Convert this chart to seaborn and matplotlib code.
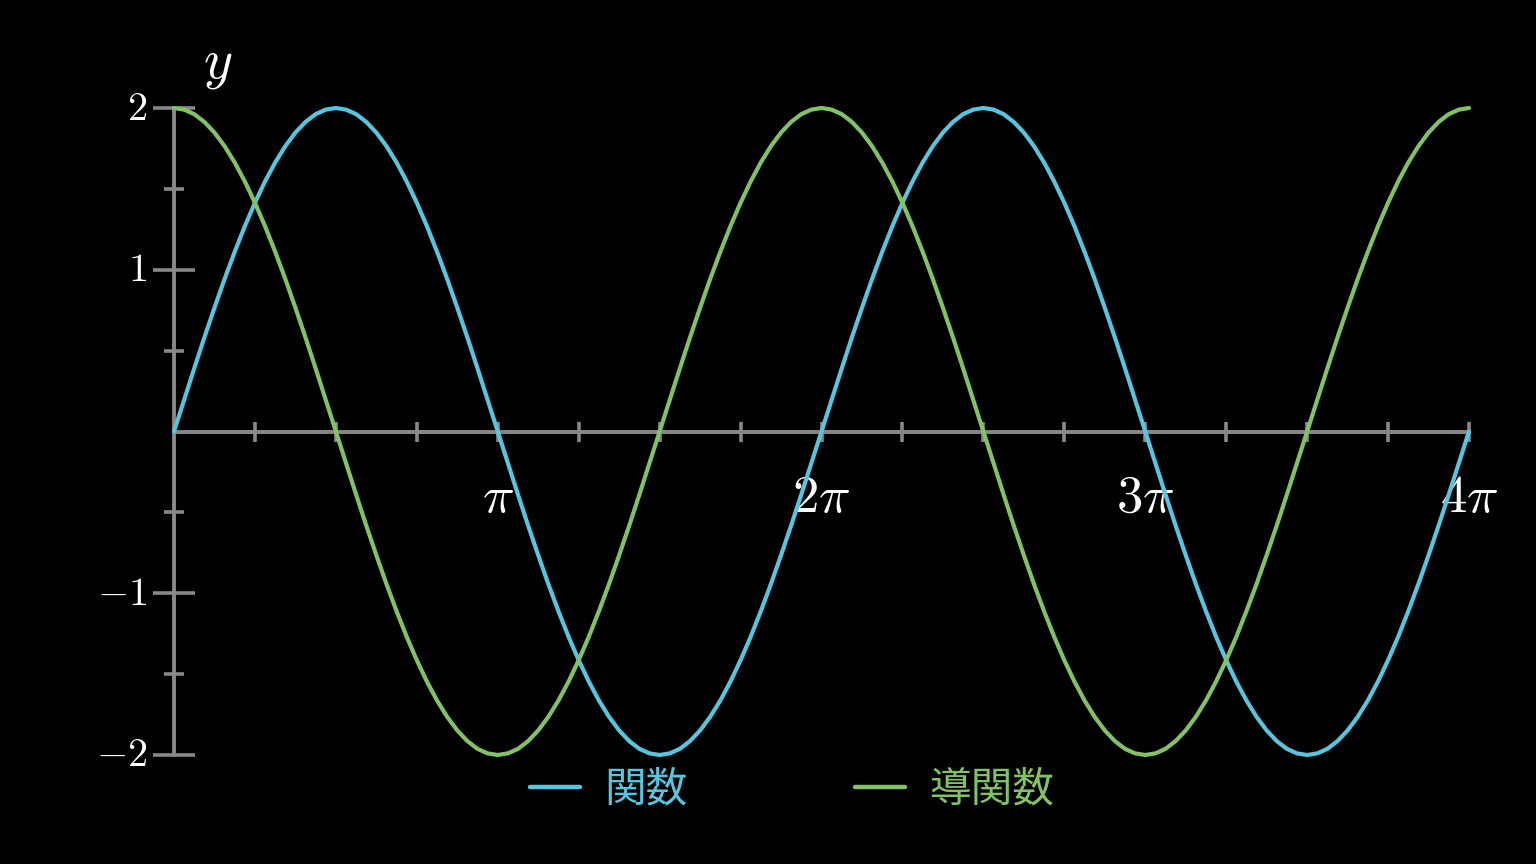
import numpy as np
import pandas as pd
import matplotlib
matplotlib.use("Agg")
import matplotlib.pyplot as plt
from matplotlib.ticker import FixedLocator
import seaborn as sns

# ----------------------------------------------------------------------
# Data: samples every pi/32 from 0 to 4*pi
# ----------------------------------------------------------------------
SERIES = ["関数", "導関数"]
COLORS = ["#58C4DD", "#83C167"]
AXIS_GREY = "#888888"

FUNC_VALUES = [
    0.0, 0.196, 0.390, 0.581, 0.765, 0.943, 1.111, 1.269,
    1.414, 1.546, 1.663, 1.764, 1.848, 1.914, 1.962, 1.990,
    2.0, 1.990, 1.962, 1.914, 1.848, 1.764, 1.663, 1.546,
    1.414, 1.269, 1.111, 0.943, 0.765, 0.581, 0.390, 0.196,
    0.0, -0.196, -0.390, -0.581, -0.765, -0.943, -1.111, -1.269,
    -1.414, -1.546, -1.663, -1.764, -1.848, -1.914, -1.962, -1.990,
    -2.0, -1.990, -1.962, -1.914, -1.848, -1.764, -1.663, -1.546,
    -1.414, -1.269, -1.111, -0.943, -0.765, -0.581, -0.390, -0.196,
    0.0, 0.196, 0.390, 0.581, 0.765, 0.943, 1.111, 1.269,
    1.414, 1.546, 1.663, 1.764, 1.848, 1.914, 1.962, 1.990,
    2.0, 1.990, 1.962, 1.914, 1.848, 1.764, 1.663, 1.546,
    1.414, 1.269, 1.111, 0.943, 0.765, 0.581, 0.390, 0.196,
    0.0, -0.196, -0.390, -0.581, -0.765, -0.943, -1.111, -1.269,
    -1.414, -1.546, -1.663, -1.764, -1.848, -1.914, -1.962, -1.990,
    -2.0, -1.990, -1.962, -1.914, -1.848, -1.764, -1.663, -1.546,
    -1.414, -1.269, -1.111, -0.943, -0.765, -0.581, -0.390, -0.196,
    0.0,
]

DERIV_VALUES = [
    2.0, 1.990, 1.962, 1.914, 1.848, 1.764, 1.663, 1.546,
    1.414, 1.269, 1.111, 0.943, 0.765, 0.581, 0.390, 0.196,
    0.0, -0.196, -0.390, -0.581, -0.765, -0.943, -1.111, -1.269,
    -1.414, -1.546, -1.663, -1.764, -1.848, -1.914, -1.962, -1.990,
    -2.0, -1.990, -1.962, -1.914, -1.848, -1.764, -1.663, -1.546,
    -1.414, -1.269, -1.111, -0.943, -0.765, -0.581, -0.390, -0.196,
    0.0, 0.196, 0.390, 0.581, 0.765, 0.943, 1.111, 1.269,
    1.414, 1.546, 1.663, 1.764, 1.848, 1.914, 1.962, 1.990,
    2.0, 1.990, 1.962, 1.914, 1.848, 1.764, 1.663, 1.546,
    1.414, 1.269, 1.111, 0.943, 0.765, 0.581, 0.390, 0.196,
    0.0, -0.196, -0.390, -0.581, -0.765, -0.943, -1.111, -1.269,
    -1.414, -1.546, -1.663, -1.764, -1.848, -1.914, -1.962, -1.990,
    -2.0, -1.990, -1.962, -1.914, -1.848, -1.764, -1.663, -1.546,
    -1.414, -1.269, -1.111, -0.943, -0.765, -0.581, -0.390, -0.196,
    0.0, 0.196, 0.390, 0.581, 0.765, 0.943, 1.111, 1.269,
    1.414, 1.546, 1.663, 1.764, 1.848, 1.914, 1.962, 1.990,
    2.0,
]

X_LABEL_MULTIPLES = [1, 2, 3, 4]
X_TICK_LABELS = [r"$\pi$", r"$2\pi$", r"$3\pi$", r"$4\pi$"]
Y_TICK_VALUES = [2, 1, -1, -2]
Y_TICK_LABELS = [r"$2$", r"$1$", r"$-1$", r"$-2$"]
Y_MINOR_VALUES = [1.5, 0.5, -0.5, -1.5]

sns.set_theme(style="dark")
plt.rcParams["font.family"] = ["Noto Sans CJK JP", "DejaVu Sans"]
plt.rcParams["mathtext.fontset"] = "cm"

x = np.linspace(0, 4 * np.pi, len(FUNC_VALUES))
df = pd.DataFrame({
    "x": np.concatenate([x, x]),
    "y": FUNC_VALUES + DERIV_VALUES,
    "series": [SERIES[0]] * len(x) + [SERIES[1]] * len(x),
})

W, H = 1536, 864
fig = plt.figure(figsize=(W / 100, H / 100), dpi=100, facecolor="black")
# plot area: x=0 at px 174, x=4pi at px 1469; y=2 at px 108, y=-2 at px 755
ax = fig.add_axes([174 / W, (H - 755) / H, 1295 / W, 647 / H])
ax.set_facecolor("black")

sns.lineplot(data=df, x="x", y="y", hue="series", hue_order=SERIES,
             palette=COLORS, lw=3.0, estimator=None, sort=False, ax=ax)
for line in ax.lines:
    line.set_clip_on(False)
    line.set_zorder(4)
    line.set_solid_capstyle("round")

ax.set_xlim(0, 4 * np.pi)
ax.set_ylim(-2, 2)
ax.grid(False)

# axes drawn manim-style through the origin
for side in ["top", "right"]:
    ax.spines[side].set_visible(False)
ax.spines["bottom"].set_position(("data", 0))
ax.spines["left"].set_position(("data", 0))
for side in ["bottom", "left"]:
    ax.spines[side].set_color(AXIS_GREY)
    ax.spines[side].set_linewidth(2.8)
    ax.spines[side].set_zorder(3)

ax.xaxis.set_major_locator(FixedLocator([np.pi * k / 4 for k in range(1, 17)]))
ax.yaxis.set_major_locator(FixedLocator(Y_TICK_VALUES))
ax.yaxis.set_minor_locator(FixedLocator(Y_MINOR_VALUES))
ax.tick_params(axis="x", which="both", bottom=True, direction="inout",
               length=15, width=2.6, color=AXIS_GREY, labelbottom=False)
ax.tick_params(axis="y", which="major", left=True, direction="inout",
               length=30, width=2.6, color=AXIS_GREY, labelleft=False)
ax.tick_params(axis="y", which="minor", left=True, direction="inout",
               length=15, width=2.6, color=AXIS_GREY)
ax.set_xlabel("")
ax.set_ylabel("")

# tick labels
for k, lab in zip(X_LABEL_MULTIPLES, X_TICK_LABELS):
    ax.text(k * np.pi, -0.40, lab, color="white", fontsize=38,
            ha="center", va="center")
for v, lab in zip(Y_TICK_VALUES, Y_TICK_LABELS):
    ax.text(-0.26, v, lab, color="white", fontsize=29,
            ha="right", va="center")
fig.text(218 / W, 1 - 62 / H, r"$y$", color="white", fontsize=40,
         ha="center", va="center")

# legend below the plot, text coloured like its line
handles, labels = ax.get_legend_handles_labels()
ax.get_legend().remove()
leg = fig.legend(handles, labels, loc="center", ncol=2,
                 bbox_to_anchor=(792 / W, 1 - 790 / H), frameon=False,
                 fontsize=30, handlelength=1.2, handletextpad=0.6,
                 columnspacing=4.0)
for text, line in zip(leg.get_texts(), leg.get_lines()):
    text.set_color(line.get_color())
    line.set_linewidth(3.2)

fig.savefig("out.png", dpi=100, facecolor="black")
